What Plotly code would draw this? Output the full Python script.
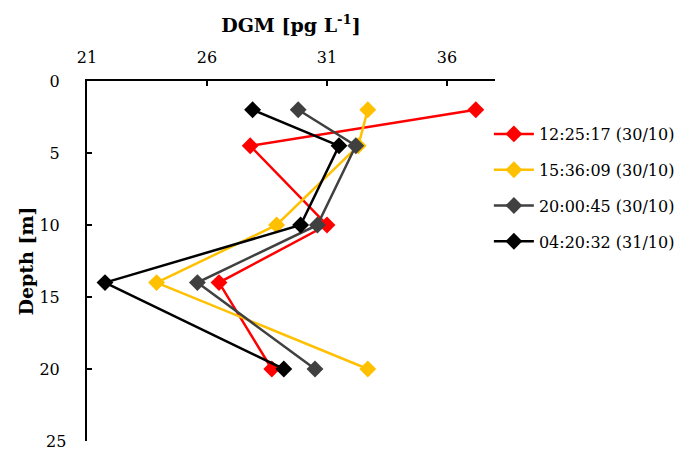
import plotly.graph_objects as go

depths = [2, 4.5, 10, 14, 20]
series_names = ["12:25:17 (30/10)", "15:36:09 (30/10)", "20:00:45 (30/10)", "04:20:32 (31/10)"]
dgm_1225 = [37.2, 27.8, 31.0, 26.5, 28.7]
dgm_1536 = [32.7, 32.3, 28.9, 23.9, 32.7]
dgm_2000 = [29.8, 32.2, 30.6, 25.6, 30.5]
dgm_0420 = [27.9, 31.5, 29.9, 21.75, 29.2]
colors = ["#FF0000", "#FFC000", "#404040", "#000000"]
x_ticks = [21, 26, 31, 36]
y_ticks = [0, 5, 10, 15, 20, 25]
y_ticktext = ["0", "5", "10", "15", "20", ""]

FONT = "Georgia, 'DejaVu Serif', serif"

fig = go.Figure()
for name, vals, c in zip(series_names, [dgm_1225, dgm_1536, dgm_2000, dgm_0420], colors):
    fig.add_trace(go.Scatter(
        x=vals, y=depths, name=name, mode="lines+markers", legendgroup=name,
        line=dict(color=c, width=2.5),
        marker=dict(symbol="diamond", size=13, color=c),
    ))

# last y tick label (sits at the very bottom edge of the figure)
fig.add_annotation(x=0, xref="paper", y=y_ticks[-1], yref="y", text=str(y_ticks[-1]),
                   showarrow=False, xanchor="right", yanchor="middle", xshift=-19,
                   font=dict(family=FONT, size=16, color="black"))

fig.update_layout(
    width=697, height=450,
    margin=dict(l=87, r=202, t=81, b=9),
    paper_bgcolor="white", plot_bgcolor="white",
    font=dict(family=FONT, size=16, color="black"),
    showlegend=True,
    legend=dict(x=0.985, xanchor="left", y=0.9, yanchor="top",
                font=dict(family=FONT, size=16, color="black"),
                tracegroupgap=12, itemwidth=40),
    xaxis=dict(side="top", range=[21, 38], tickvals=x_ticks, showgrid=False, zeroline=False,
               showline=True, linecolor="black", linewidth=2, ticks="inside", ticklen=5,
               tickcolor="black", tickwidth=2, ticklabelstandoff=10,
               title=dict(text="<b>DGM [pg L<sup>-1</sup>]</b>", font=dict(family=FONT, size=19), standoff=10)),
    yaxis=dict(range=[25.0001, -0.0001], tickvals=y_ticks, ticktext=y_ticktext, showgrid=False, zeroline=False,
               showline=True, linecolor="black", linewidth=2, ticks="inside", ticklen=5,
               tickcolor="black", tickwidth=2, ticklabelstandoff=22,
               title=dict(text="<b>Depth [m]</b>", font=dict(family=FONT, size=19), standoff=1)),
)

fig.write_html("out.html")
